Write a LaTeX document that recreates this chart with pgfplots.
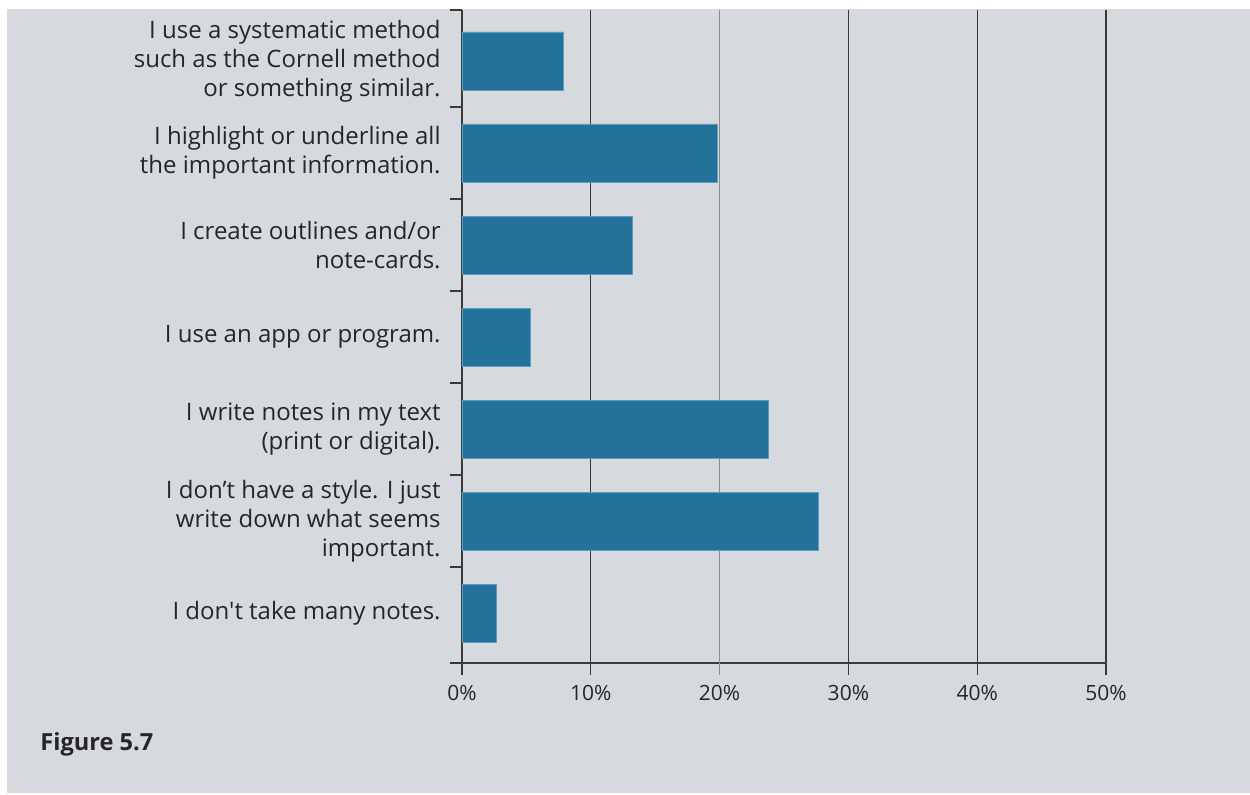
\documentclass[border=0pt]{standalone}
\usepackage{fontspec}
\setmainfont{Open Sans}[Ligatures=TeXOff]
\usepackage{pgfplots}
\pgfplotsset{compat=1.18}
\definecolor{bg}{HTML}{D6D9DD}
\definecolor{barfill}{HTML}{23729B}
\definecolor{baredge}{HTML}{5E9CC0}
\definecolor{txt}{HTML}{262626}
\definecolor{gridc}{HTML}{3A3A3A}
\definecolor{gridl}{HTML}{8C8C8C}
\begin{document}
\begin{tikzpicture}
% canvas: 1 px of the reference = 0.5pt, origin at the axis' lower left corner
\useasboundingbox (-231pt,-65.5pt) rectangle (394pt,331.5pt);
\fill[white] (-231pt,-65.5pt) rectangle (394pt,331.5pt);
\fill[bg] (-227.5pt,-65pt) rectangle (394pt,327pt);
\begin{axis}[
  at={(0pt,0pt)}, anchor=south west,
  scale only axis, width=322pt, height=326.5pt,
  xbar, bar width=0.63,
  xmin=0, xmax=50, ymin=-0.543, ymax=6.554,
  axis x line*=bottom, axis y line*=left,
  axis line style={gridc, line width=0.6pt},
  xtick={0,10,30,40,50},
  extra x ticks={20},
  extra x tick style={xmajorgrids, grid style={gridl, line width=0.6pt},
    tick style={gridl, line width=0.6pt}},
  xmajorgrids, grid style={gridc, line width=0.6pt},
  xticklabel={\pgfmathprintnumber{\tick}\%},
  /pgf/number format/assume math mode=true,
  ytick={0,...,6},
  yticklabels={
    {I don't take many notes.},
    {I don’t have a style. I just\\write down what seems\\important.},
    {I write notes in my text\\(print or digital).},
    {I use an app or program.},
    {I create outlines and/or\\note-cards.},
    {I highlight or underline all\\the important information.},
    {I use a systematic method\\such as the Cornell method\\or something similar.}},
  minor ytick={-0.543,0.5,1.5,2.5,3.5,4.5,5.5,6.554},
  tick align=outside, major tick length=6pt, minor tick length=6pt,
  every major y tick/.append style={draw=none},
  tick style={gridc, line width=0.6pt},
  yticklabel style={align=right, inner sep=0pt, anchor=east, xshift=-4.5pt,
    font=\fontsize{12}{14.5}\selectfont, text=txt},
  xticklabel style={inner sep=0pt, anchor=north, yshift=-5pt,
    font=\fontsize{10.5}{13}\selectfont, text=txt},
]
\addplot[fill=barfill, draw=baredge, line width=0.4pt]
  coordinates {(2.7,0) (27.7,1) (23.8,2) (5.3,3) (13.2,4) (19.8,5) (7.9,6)};
\end{axis}
\node[anchor=base west, inner sep=0pt, text=txt,
  font=\bfseries\fontsize{11.8}{14}\selectfont] at (-211pt,-43.5pt) {Figure 5.7};
\end{tikzpicture}
\end{document}
